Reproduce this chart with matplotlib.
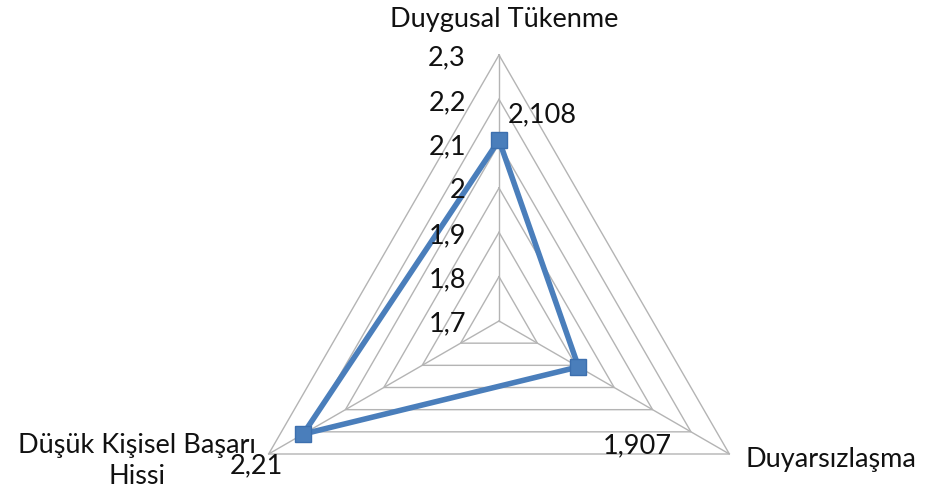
import numpy as np
import matplotlib
matplotlib.use("Agg")
import matplotlib.pyplot as plt

# Burnout subscale means
categories = ["Duygusal Tükenme", "Duyarsızlaşma", "Düşük Kişisel Başarı\nHissi"]
values = [2.108, 1.907, 2.21]
value_labels = ["2,108", "1,907", "2,21"]
ring_levels = [1.7, 1.8, 1.9, 2.0, 2.1, 2.2, 2.3]
ring_labels = ["1,7", "1,8", "1,9", "2", "2,1", "2,2", "2,3"]

plt.rcParams["font.family"] = ["Lato", "DejaVu Sans"]

W, H = 928, 493
fig = plt.figure(figsize=(W / 100, H / 100), dpi=100)

cx, cy, R = 499, H - 321, 266
ax = fig.add_axes([(cx - R) / W, (cy - R) / H, 2 * R / W, 2 * R / H], projection="polar")
ax.set_theta_offset(np.pi / 2)
ax.set_theta_direction(-1)
ax.set_ylim(ring_levels[0], ring_levels[-1])
ax.set_xticks([])
ax.set_yticks([])
ax.grid(False)
ax.spines["polar"].set_visible(False)
ax.patch.set_visible(False)

angles = np.linspace(0, 2 * np.pi, len(categories), endpoint=False)
closed = np.append(angles, angles[0])

grid_color = "#b4b4b4"
# triangular rings
for lv in ring_levels[1:]:
    ax.plot(closed, [lv] * len(closed), color=grid_color, lw=1.0, clip_on=False, zorder=1)
# spokes
for a in angles:
    ax.plot([a, a], [ring_levels[0], ring_levels[-1]], color=grid_color, lw=1.0, clip_on=False, zorder=1)

# series
blue = "#4a7ebb"
ax.plot(closed, np.append(values, values[0]), color=blue, lw=4.0, clip_on=False, zorder=3,
        solid_joinstyle="miter")
ax.plot(angles, values, ls="none", marker="s", ms=11.5, mfc=blue, mec="#3c6fae", mew=1,
        clip_on=False, zorder=4)

fs = 19.5
txt_color = "#111111"
# ring value labels along the first spoke
for lv, lab in zip(ring_levels, ring_labels):
    ax.annotate(lab, xy=(0, lv), xytext=(-33, -3), textcoords="offset pixels",
                ha="right", va="center", fontsize=fs, color=txt_color, annotation_clip=False)

# data labels
value_offsets = [(9, 25), (24, -79), (-20, -32)]
value_ha = ["left", "left", "right"]
for a, v, lab, off, ha in zip(angles, values, value_labels, value_offsets, value_ha):
    ax.annotate(lab, xy=(a, v), xytext=off, textcoords="offset pixels",
                ha=ha, va="center", fontsize=fs, color=txt_color, annotation_clip=False)

# category labels
cat_offsets = [(5, 35), (16, -6), (-132, -7)]
cat_ha = ["center", "left", "center"]
for a, lab, off, ha in zip(angles, categories, cat_offsets, cat_ha):
    ax.annotate(lab, xy=(a, ring_levels[-1]), xytext=off, textcoords="offset pixels",
                ha=ha, va="center", multialignment="center", fontsize=fs,
                color=txt_color, annotation_clip=False, linespacing=1.25)

fig.savefig("out.png", dpi=100)
